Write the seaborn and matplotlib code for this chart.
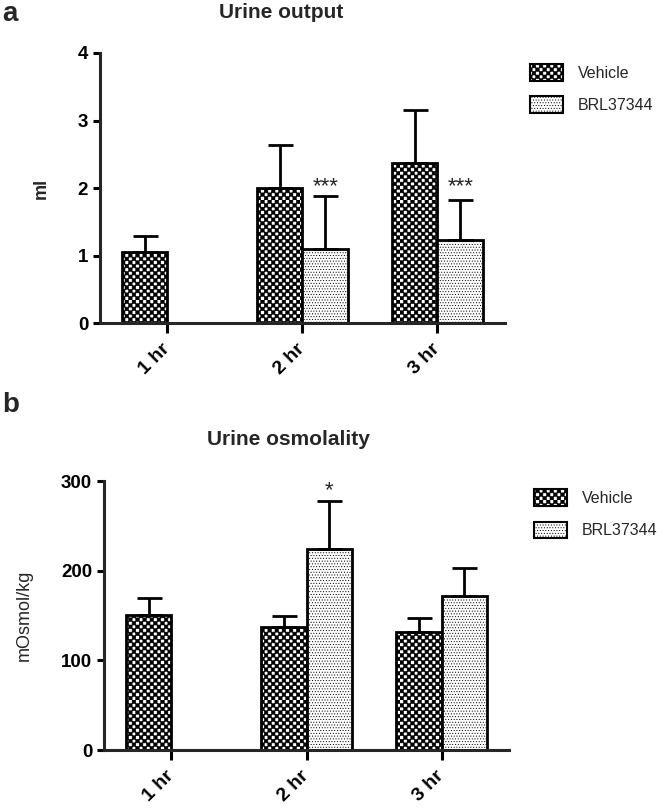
"""
Urine output / urine osmolality: Vehicle vs BRL37344 (grouped bar charts, SEM bars).
"""

import numpy as np
import pandas as pd
import matplotlib
matplotlib.use("Agg")
import matplotlib.pyplot as plt
import matplotlib.hatch as mhatch
from matplotlib.path import Path
from matplotlib.patches import Patch
import seaborn as sns

# ── Data ──────────────────────────────────────────────────────────────────────

TIMES = ["1 hr", "2 hr", "3 hr"]
GROUPS = ["Vehicle", "BRL37344"]

# panel a: urine output (ml); *_TOP = top of the error bar
OUT_VEH = [1.05, 2.00, 2.37]
OUT_VEH_TOP = [1.29, 2.63, 3.16]
OUT_BRL = [np.nan, 1.10, 1.23]
OUT_BRL_TOP = [np.nan, 1.88, 1.82]
OUT_STARS = ["", "***", "***"]

# panel b: urine osmolality (mOsmol/kg)
OSM_VEH = [151, 137, 132]
OSM_VEH_TOP = [169, 149, 147]
OSM_BRL = [np.nan, 224, 172]
OSM_BRL_TOP = [np.nan, 278, 203]
OSM_STARS = ["", "*", ""]


# ── Checkerboard hatch (takes the place of the 'O' pattern) ──────────────────

class CheckerHatch(mhatch.HatchPatternBase):
    def __init__(self, hatch, density):
        self.n = hatch.count("O") * 4
        self.cells = [(i, j) for i in range(self.n) for j in range(self.n)
                      if (i + j) % 2 == 0]
        self.num_vertices = len(self.cells) * 5

    def set_vertices_and_codes(self, vertices, codes):
        s = 1.0 / self.n
        sq = np.array([[0, 0], [1, 0], [1, 1], [0, 1], [0, 0]], float) * s
        vertices[:] = np.concatenate([sq + [i * s, j * s] for i, j in self.cells])
        c = [Path.MOVETO, Path.LINETO, Path.LINETO, Path.LINETO, Path.CLOSEPOLY]
        codes[:] = np.tile(c, len(self.cells))


mhatch._hatch_types = [CheckerHatch if t is mhatch.LargeCircles else t
                       for t in mhatch._hatch_types]

HATCH = {"Vehicle": "OOOOOOO", "BRL37344": "......"}

# ── Style ─────────────────────────────────────────────────────────────────────

sns.set_style("ticks")
plt.rcParams.update({
    "font.family": ["Liberation Sans", "DejaVu Sans"],
    "hatch.linewidth": 0.4,
    "hatch.color": "black",
    "axes.linewidth": 2.2,
    "xtick.major.width": 2.2,
    "ytick.major.width": 2.2,
    "xtick.major.size": 7,
    "ytick.major.size": 5,
    "xtick.color": "black",
    "ytick.color": "black",
})


def long_table(veh, brl):
    rows = []
    for t, v, b in zip(TIMES, veh, brl):
        rows.append((t, "Vehicle", v))
        if not np.isnan(b):
            rows.append((t, "BRL37344", b))
    return pd.DataFrame(rows, columns=["time", "group", "value"])


def panel(ax, veh, veh_top, brl, brl_top, stars, ylim, yticks, ylabel,
          bold_label, legend_xy):
    df = long_table(veh, brl)
    sns.barplot(data=df, x="time", y="value", hue="group",
                order=TIMES, hue_order=GROUPS,
                palette={"Vehicle": "white", "BRL37344": "white"},
                saturation=1, edgecolor="black", linewidth=2,
                width=0.68, errorbar=None, legend=False, ax=ax)

    # stars all sit at one height, above the highest starred error bar
    star_base = max(brl_top[i] for i, s in enumerate(stars) if s)

    tops = {"Vehicle": veh_top, "BRL37344": brl_top}
    for group, cont in zip(GROUPS, ax.containers):
        xs, hs, ups = [], [], []
        for bar in cont:
            bar.set_hatch(HATCH[group])
            xc = bar.get_x() + bar.get_width() / 2
            idx = int(round(xc))
            h = bar.get_height()
            if np.isnan(h):
                continue
            xs.append(xc)
            hs.append(h)
            ups.append(tops[group][idx] - h)
            if group == "BRL37344" and stars[idx]:
                ax.annotate(stars[idx], (xc, star_base),
                            xytext=(0, 3), textcoords="offset points",
                            ha="center", va="baseline", fontsize=16)
        ax.errorbar(xs, hs, yerr=[np.zeros(len(ups)), ups], fmt="none",
                    ecolor="black", elinewidth=2, capsize=9, capthick=2,
                    zorder=1)

    ax.set_xlim(-0.5, 2.5)
    ax.set_ylim(*ylim)
    ax.set_yticks(yticks)
    sns.despine(ax=ax)
    ax.set_xlabel("")
    ax.set_ylabel(ylabel, fontsize=13,
                  fontweight="bold" if bold_label else "normal", labelpad=20)
    for lab in ax.get_yticklabels():
        lab.set_fontweight("bold")
        lab.set_fontsize(13.5)
    ax.set_xticks(range(len(TIMES)))
    ax.set_xticklabels(TIMES, rotation=45, ha="right", va="center",
                       rotation_mode="anchor", fontsize=14, fontweight="bold")
    ax.tick_params(axis="x", pad=10)

    handles = [Patch(facecolor="white", edgecolor="black", linewidth=1.5,
                     hatch=HATCH[g], label=g) for g in GROUPS]
    ax.legend(handles=handles, loc="upper left", bbox_to_anchor=legend_xy,
              bbox_transform=ax.figure.transFigure,
              frameon=False, fontsize=11.5,
              borderpad=0, borderaxespad=0,
              handlelength=2.07, handleheight=1.25,
              labelspacing=0.95, handletextpad=0.94)


fig = plt.figure(figsize=(6.64, 8.09), dpi=100)
ax_a = fig.add_axes([0.1506, 0.6007, 0.6099, 0.3338])
ax_b = fig.add_axes([0.1566, 0.0729, 0.6100, 0.3325])

panel(ax_a, OUT_VEH, OUT_VEH_TOP, OUT_BRL, OUT_BRL_TOP, OUT_STARS,
      (0, 4), [0, 1, 2, 3, 4], "ml", True, (0.798, 0.921))
panel(ax_b, OSM_VEH, OSM_VEH_TOP, OSM_BRL, OSM_BRL_TOP, OSM_STARS,
      (0, 300), [0, 100, 200, 300], "mOsmol/kg", False, (0.804, 0.395))

fig.text(0.423, 0.984, "Urine output", ha="center", va="center",
         fontsize=15, fontweight="bold")
fig.text(0.434, 0.457, "Urine osmolality", ha="center", va="center",
         fontsize=15, fontweight="bold")
fig.text(0.003, 0.974, "a", ha="left", va="baseline", fontsize=20, fontweight="bold")
fig.text(0.003, 0.515, "b", ha="left", va="top", fontsize=20, fontweight="bold")

fig.savefig("out.png", dpi=100)
